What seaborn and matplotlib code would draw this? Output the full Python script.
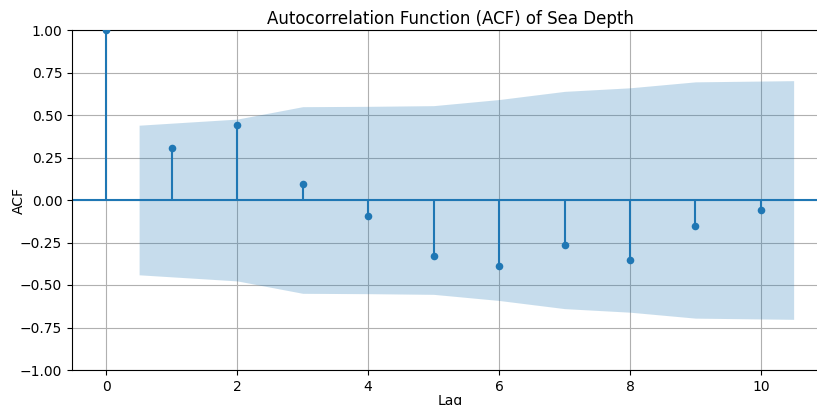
import matplotlib
matplotlib.use("Agg")
import matplotlib.pyplot as plt
import numpy as np
import pandas as pd
import seaborn as sns

lags = [0, 1, 2, 3, 4, 5, 6, 7, 8, 9, 10]
acf_values = [1.00, 0.305, 0.44, 0.093, -0.095, -0.33, -0.39, -0.265, -0.352, -0.155, -0.06]
# confidence band half-width, for lags 1..10
band_lags = [1, 2, 3, 4, 5, 6, 7, 8, 9, 10]
band_width = [0.44, 0.476, 0.549, 0.551, 0.555, 0.591, 0.639, 0.66, 0.695, 0.702]

df = pd.DataFrame({"lag": lags, "acf": acf_values})

fig = plt.figure(figsize=(8.17, 4.05), dpi=100)
ax = fig.add_axes([72 / 817, 35 / 405, 756 / 817, 340 / 405])

ax.vlines(df["lag"], 0, df["acf"], color="C0", linewidth=1.5)
sns.scatterplot(data=df, x="lag", y="acf", ax=ax, color="C0", s=30,
                edgecolor="C0", linewidth=0, zorder=3)
ax.axhline(0, color="C0", linewidth=1.5)

bx = np.array(band_lags, dtype=float)
bx[0] -= 0.5
bx[-1] += 0.5
bw = np.array(band_width)
ax.fill_between(bx, -bw, bw, color="C0", alpha=0.25, linewidth=0)

ax.set_xlim(-0.525, 11.025)
ax.set_ylim(-1, 1)
ax.set_yticks([-1, -0.75, -0.5, -0.25, 0, 0.25, 0.5, 0.75, 1])
ax.set_yticklabels([f"{v:.2f}".replace("-", "\u2212") for v in ax.get_yticks()])
ax.set_xticks([0, 2, 4, 6, 8, 10])

ax.set_title("Autocorrelation Function (ACF) of Sea Depth", fontsize=12, pad=4.5)
ax.set_xlabel("Lag", labelpad=0.5)
ax.set_ylabel("ACF", labelpad=-4)
ax.grid(True)
ax.set_axisbelow(True)

fig.savefig("out.png", dpi=100)
plt.close(fig)
